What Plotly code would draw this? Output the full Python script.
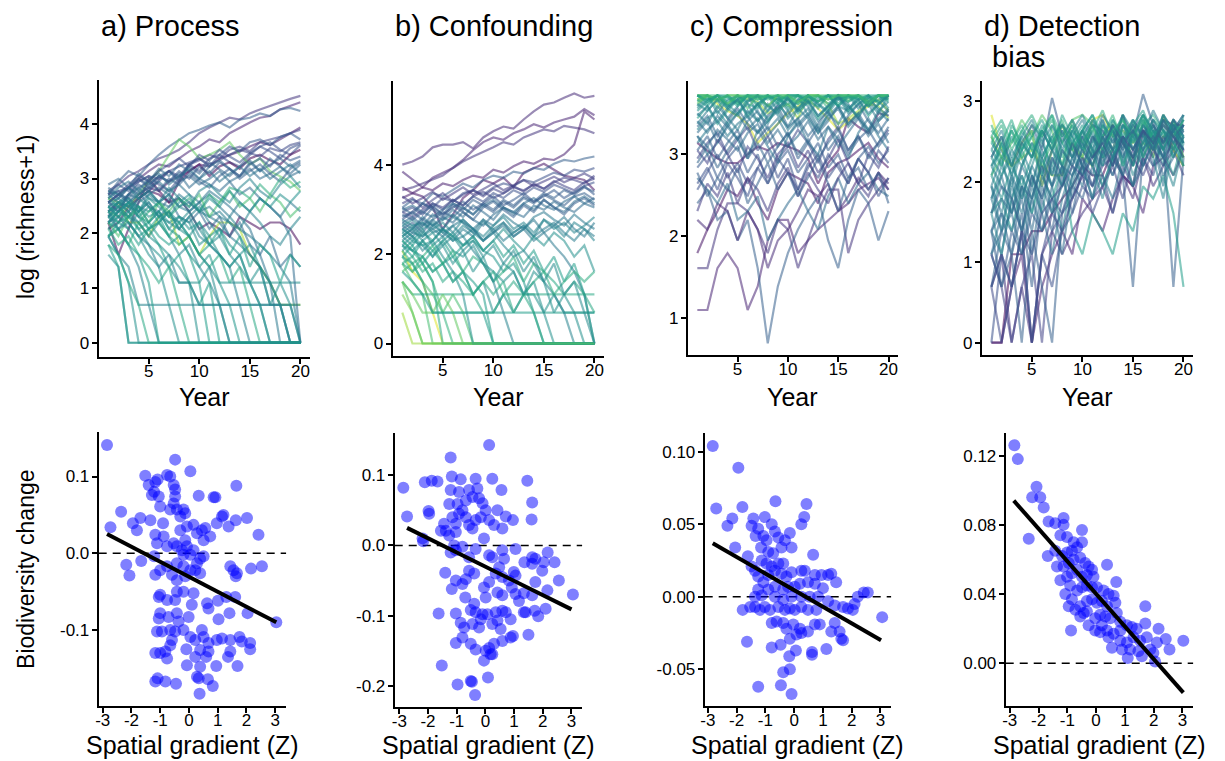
import numpy as np
import plotly.graph_objects as go
from plotly.colors import sample_colorscale

W, H = 1225, 761
years = list(range(1, 21))

# ---------------- Top row: richness counts per site (log(richness+1) is plotted) -------------
a_counts = [
    [15,17,20,22,25,28,30,33,38,45,50,55,60,58,65,70,75,80,85,90],
    [12,14,16,19,22,25,24,28,32,35,40,38,45,50,55,60,62,70,75,80],
    [14,18,22,20,25,30,35,40,45,48,52,55,50,58,60,65,62,70,72,68],
    [10,12,11,14,16,15,18,20,22,25,24,28,30,32,35,38,36,40,45,50],
    [9,12,10,13,15,18,22,20,25,27,30,28,33,35,32,38,40,42,45,48],
    [8,10,14,18,20,17,15,19,25,22,28,30,26,24,30,35,38,33,30,36],
    [8,4,7,12,19,15,12,13,10,7,8,7,6,9,8,7,8,8,7,5],
    [7,8,11,13,15,14,12,18,22,25,20,24,26,23,28,30,27,25,30,33],
    [13,12,8,8,6,9,10,5,6,4,6,8,8,7,4,3,2,1,1,1],
    [10,9,11,14,18,22,30,40,35,28,30,33,38,30,25,28,22,20,18,15],
    [9,7,5,3,1,0,0,0,0,0,0,0,0,0,0,0,0,0,0,0],
    [6,4,2,0,0,0,0,0,0,0,0,0,0,0,0,0,0,0,0,0],
    [5,3,0,0,0,0,0,0,0,0,0,0,0,0,0,0,0,0,0,0],
    [11,9,10,8,6,5,4,3,2,0,0,0,0,0,0,0,0,0,0,0],
    [8,10,12,9,7,8,6,4,5,3,2,1,0,0,0,0,0,0,0,0],
    [14,12,13,11,10,12,9,8,10,7,5,6,4,3,2,1,0,0,0,0],
    [10,12,14,13,15,12,11,14,12,10,9,8,6,5,4,3,2,0,0,0],
    [12,11,14,16,13,12,14,11,10,12,9,10,8,6,4,3,1,1,0,0],
    [6,4,3,1,1,1,1,1,1,1,1,1,1,1,1,1,1,1,1,1],
    [9,8,10,7,5,4,3,2,2,2,3,2,2,2,2,2,2,2,2,2],
    [13,15,12,14,16,18,15,17,14,12,15,13,11,9,7,4,2,1,0,0],
    [11,13,16,14,17,20,18,21,16,19,17,15,18,14,16,13,11,9,6,0],
    [10,11,9,12,14,16,14,18,20,17,19,22,18,20,23,19,21,24,20,22],
    [12,14,13,16,18,15,19,17,21,18,16,20,23,19,22,25,21,18,23,26],
    [15,13,16,19,17,20,22,19,24,21,26,23,20,24,27,22,25,28,24,27],
    [8,9,7,10,12,9,11,13,10,12,14,11,9,12,10,13,11,9,12,10],
    [6,7,9,8,6,8,10,7,9,11,8,6,9,7,10,8,6,5,7,9],
    [16,14,12,15,11,10,13,9,8,10,7,9,6,8,5,4,6,3,4,3],
    [11,10,12,9,11,8,10,7,6,8,5,4,3,4,2,3,1,2,1,0],
    [9,11,8,6,7,5,3,4,2,1,2,0,0,0,0,0,0,0,0,0],
    [13,11,9,10,7,8,6,5,6,4,3,4,2,3,1,0,0,0,0,0],
    [7,5,6,4,3,2,3,1,0,0,0,0,0,0,0,0,0,0,0,0],
    [10,12,11,9,8,10,7,6,4,3,4,2,1,0,0,0,0,0,0,0],
    [4,3,0,0,0,0,0,0,0,0,0,0,0,0,0,0,0,0,0,0],
    [12,10,14,17,15,19,22,18,25,28,24,30,35,32,38,40,36,42,45,40],
    [14,15,16,18,20,19,22,24,26,28,25,27,30,33,31,29,34,32,36,38],
    [6,7,5,8,10,12,9,11,13,10,14,12,16,15,13,17,14,19,16,18],
    [8,6,9,11,8,12,10,13,11,14,9,12,15,11,13,10,14,12,9,11],
    [7,9,8,6,4,3,1,0,0,0,0,0,0,0,0,0,0,0,0,0],
    [10,8,9,7,8,6,5,6,4,2,0,0,0,0,0,0,0,0,0,0],
    [12,13,11,10,12,9,8,7,9,6,5,4,3,1,0,0,0,0,0,0],
    [9,10,12,11,9,10,8,9,7,8,6,7,5,4,5,3,2,1,0,0],
    [15,14,16,13,15,12,14,11,12,10,11,9,8,7,6,5,4,3,2,0],
    [5,4,2,1,0,0,0,0,0,0,0,0,0,0,0,0,0,0,0,0],
    [8,7,5,4,2,0,0,0,0,0,0,0,0,0,0,0,0,0,0,0],
    [11,12,10,13,11,9,10,8,6,4,3,1,0,0,0,0,0,0,0,0],
    [13,16,18,15,19,21,17,20,23,19,22,18,21,24,20,23,19,22,25,21],
    [17,19,16,21,18,23,20,25,22,19,24,27,23,20,26,22,28,24,21,25],
    [9,11,13,10,14,12,16,13,11,15,17,14,12,16,19,15,13,17,20,16],
    [11,9,12,10,13,11,9,12,14,10,13,11,15,12,10,13,11,14,12,15],
    [14,17,15,19,16,20,18,22,19,24,21,26,23,20,25,28,24,30,27,29],
    [6,8,7,5,7,9,6,8,6,4,5,7,4,6,3,5,4,2,4,3],
    [12,14,17,20,18,22,25,28,24,30,27,33,29,26,31,35,32,28,34,37],
    [10,7,8,6,5,3,4,2,2,1,1,1,1,1,1,1,1,1,1,0],
    [8,10,9,11,8,10,7,9,8,5,6,4,3,4,2,1,0,0,0,0],
]
a_color = [0.15,0.10,0.30,0.08,0.20,0.25,0.02,0.00,0.88,0.75,0.45,0.50,0.55,0.50,0.45,0.48,
           0.40,0.42,0.45,0.50,0.38,0.35,0.35,0.30,0.32,0.40,0.45,0.35,0.50,0.55,0.60,0.60,
           0.52,0.50,0.28,0.22,0.62,0.70,0.50,0.55,0.45,0.50,0.42,0.60,0.55,0.48,0.38,0.33,
           0.45,0.50,0.28,0.55,0.25,0.45,0.50]

b_counts = [
    [54,58,65,80,85,85,90,78,100,115,128,122,150,180,210,220,245,270,245,255],
    [46,38,32,40,45,50,60,75,90,100,95,110,120,135,125,140,150,160,190,165],
    [30,32,35,38,42,50,58,65,72,80,90,85,100,110,120,115,130,125,120,110],
    [32,28,26,20,12,17,25,30,38,35,40,32,45,50,55,48,42,40,38,30],
    [25,28,32,30,35,33,38,42,40,48,45,52,58,55,62,60,68,85,180,150],
    [20,24,22,28,26,30,35,32,38,42,40,46,44,50,48,55,60,58,62,65],
    [15,18,22,20,25,23,28,30,27,32,35,33,38,36,40,45,42,48,46,50],
    [18,16,19,22,20,24,21,26,29,25,28,32,30,34,31,36,40,38,35,42],
    [12,14,11,15,18,16,20,17,22,19,24,21,26,23,28,25,30,27,32,29],
    [10,12,15,13,16,14,18,15,13,17,20,18,16,21,19,23,20,18,22,25],
    [8,10,7,9,12,10,13,11,9,12,14,11,13,10,15,12,14,11,13,16],
    [9,7,6,4,5,3,4,2,3,1,2,1,2,2,1,2,1,1,1,1],
    [5,3,2,0,0,0,0,0,0,0,0,0,0,0,0,0,0,0,0,0],
    [6,4,5,3,1,0,0,0,0,0,0,0,0,0,0,0,0,0,0,0],
    [7,4,3,1,0,0,0,0,0,0,0,0,0,0,0,0,0,0,0,0],
    [2,1,0,0,0,0,0,0,0,0,0,0,0,0,0,0,0,0,0,0],
    [1,0,0,0,0,0,0,0,0,0,0,0,0,0,0,0,0,0,0,0],
    [3,2,2,2,2,2,2,2,1,1,2,2,2,2,2,2,2,2,2,1],
    [4,3,2,1,1,1,1,1,1,1,1,1,1,1,1,1,1,1,1,1],
    [11,9,12,8,10,7,6,8,5,4,3,4,2,3,1,0,0,0,0,0],
    [13,15,12,14,11,13,10,12,9,11,8,6,7,5,3,2,1,0,0,0],
    [8,6,9,7,5,6,4,3,2,0,0,0,0,0,0,0,0,0,0,0],
    [10,8,11,9,12,10,8,9,7,6,4,5,3,1,0,0,0,0,0,0],
    [14,12,16,13,15,17,14,12,15,11,13,10,12,9,11,8,6,4,2,0],
    [6,8,5,7,9,6,8,10,7,9,6,8,5,7,4,6,3,5,2,0],
    [12,10,13,15,12,16,14,11,15,13,17,14,12,16,18,15,13,17,14,12],
    [16,18,15,20,17,22,19,24,21,18,23,20,25,22,27,24,21,26,28,24],
    [22,25,20,24,28,23,27,30,26,31,28,33,29,35,31,37,33,30,36,39],
    [5,6,4,5,3,4,3,2,3,4,2,3,2,3,4,3,2,3,2,2],
    [7,5,6,8,5,7,4,6,5,3,4,6,3,5,4,2,3,4,3,4],
    [9,11,10,13,11,9,12,10,14,12,9,11,13,10,12,14,11,9,12,10],
    [4,5,3,2,1,2,1,0,0,0,0,0,0,0,0,0,0,0,0,0],
    [3,2,1,1,2,1,0,0,0,0,0,0,0,0,0,0,0,0,0,0],
    [19,21,18,16,19,22,20,17,21,24,20,18,22,25,21,19,23,26,22,20],
    [7,9,8,6,9,11,8,10,7,9,12,9,7,10,8,11,9,6,8,4],
    [9,7,5,3,0,0,0,0,0,0,0,0,0,0,0,0,0,0,0,0],
    [12,10,8,9,6,4,2,0,0,0,0,0,0,0,0,0,0,0,0,0],
    [15,13,14,11,12,9,10,7,5,3,1,0,0,0,0,0,0,0,0,0],
    [6,5,3,1,1,1,1,1,1,0,0,0,0,0,0,0,0,0,0,0],
    [18,20,17,22,19,24,21,26,23,28,25,30,27,32,29,34,31,28,33,36],
    [14,16,13,17,15,19,16,21,18,15,20,17,22,19,24,20,18,23,26,22],
    [11,13,10,12,14,11,15,12,10,13,16,12,14,11,15,13,10,14,12,9],
    [8,7,9,6,8,5,7,4,6,3,5,4,2,4,3,1,2,1,0,0],
    [20,17,22,19,16,21,18,15,20,23,19,16,21,18,24,20,17,22,25,21],
    [26,22,25,29,24,28,32,27,31,35,30,34,38,33,37,41,36,40,44,39],
    [5,4,6,4,5,3,4,2,3,2,3,1,2,1,0,0,0,0,0,0],
    [10,12,9,11,8,10,7,9,6,8,5,7,4,6,3,5,2,3,1,0],
    [3,1,0,0,0,0,0,0,0,0,0,0,0,0,0,0,0,0,0,0],
    [13,11,14,12,10,13,15,12,9,11,14,10,12,15,11,13,16,12,10,14],
    [17,15,18,21,17,20,23,19,22,26,21,24,28,23,26,30,25,29,33,27],
]
b_color = [0.12,0.10,0.15,0.05,0.08,0.30,0.25,0.20,0.30,0.35,0.45,0.50,0.70,0.65,0.95,0.80,
           0.85,0.60,0.55,0.50,0.45,0.55,0.52,0.40,0.55,0.40,0.30,0.20,0.60,0.62,0.42,0.70,
           0.75,0.35,0.50,0.60,0.50,0.45,0.55,0.25,0.35,0.45,0.50,0.30,0.18,0.60,0.48,0.75,
           0.40,0.28]

c_counts = [
    [2,2,4,5,4,2,3,6,8,8,5,6,7,8,9,10,12,13,14,12],
    [4,4,7,10,10,9,7,5,8,7,4,6,9,12,12,5,8,10,12,14],
    [5,7,9,12,11,14,10,8,12,15,14,13,10,15,17,18,20,22,18,16],
    [10,12,8,9,6,8,4,1,3,5,7,9,11,6,4,8,12,10,6,9],
    [8,7,10,9,6,9,7,4,6,7,9,12,11,13,9,11,14,12,15,13],
    [14,12,10,13,8,9,11,6,8,10,12,9,7,11,14,10,13,15,12,11],
    [22,20,18,17,17,19,21,20,22,21,20,18,13,17,20,30,27,25,32,31],
    [40,40,38,36,40,38,37,32,34,36,30,40,40,36,28,30,33,36,35,30],
    [38,40,36,33,31,28,22,25,28,32,35,38,34,30,26,29,32,35,38,33],
    [40,38,40,35,40,37,40,33,40,38,36,40,34,40,39,37,40,35,40,38],
    [35,40,32,38,40,30,36,40,33,39,40,31,38,40,35,33,40,37,32,40],
    [28,33,38,30,35,40,32,28,36,31,38,35,29,33,40,36,30,38,34,31],
    [25,29,22,27,32,26,30,24,28,33,27,31,25,29,35,28,32,26,30,34],
    [20,24,18,22,26,19,23,27,21,25,18,22,27,20,24,19,23,26,21,25],
    [16,19,14,18,21,15,19,13,17,20,15,18,22,16,19,14,18,21,17,20],
    [30,35,28,33,38,31,36,29,34,39,32,37,30,35,40,33,38,31,36,40],
    [40,36,40,34,39,40,35,40,38,40,33,40,37,40,36,40,39,35,40,40],
    [37,40,34,40,36,40,40,38,40,35,40,38,40,34,40,37,40,40,36,40],
    [32,28,35,30,26,33,29,36,31,27,34,30,25,32,28,35,30,26,33,29],
    [18,22,25,19,23,27,20,24,18,21,26,22,17,23,27,20,24,19,22,26],
    [12,15,19,14,17,13,16,20,14,18,12,16,19,14,17,13,18,15,11,14],
    [24,19,22,28,23,18,26,21,17,24,29,22,19,27,23,18,25,30,24,20],
    [40,40,37,40,40,34,40,40,38,40,40,36,40,40,40,38,40,35,40,40],
    [34,38,40,36,32,38,40,35,39,33,37,40,36,32,38,40,34,39,37,33],
    [27,31,24,29,34,28,25,31,35,27,30,24,28,33,26,31,36,29,25,30],
    [20,17,23,19,15,21,18,14,19,22,16,20,15,18,23,17,13,19,16,21],
    [40,38,40,40,36,40,39,40,37,40,40,39,40,36,40,40,38,40,40,37],
    [9,13,11,15,10,14,12,9,13,16,11,15,12,10,14,17,13,11,15,12],
    [15,11,14,12,16,10,13,17,12,15,11,14,18,13,9,14,16,12,15,10],
    [38,35,40,37,40,36,34,40,38,36,40,37,35,40,38,40,36,39,40,38],
    [36,40,38,40,40,39,40,35,40,40,37,40,40,38,40,40,40,37,40,39],
    [33,37,40,35,38,40,36,39,40,34,38,40,37,40,35,39,40,36,38,40],
    [26,30,33,28,32,36,29,33,37,30,34,38,31,35,39,32,36,40,33,37],
    [22,26,29,24,28,31,25,29,33,26,30,34,27,31,35,28,32,36,29,33],
    [40,37,40,39,35,40,38,40,36,40,40,37,39,40,35,40,38,40,37,40],
    [29,25,31,27,23,29,33,26,30,24,28,32,26,30,34,27,31,25,29,33],
    [17,21,16,20,24,18,22,17,21,25,19,23,18,22,26,20,24,18,22,27],
    [36,33,38,34,31,37,40,35,32,38,34,40,36,33,39,35,31,37,40,34],
    [40,40,38,40,37,40,40,39,40,38,40,40,37,40,40,39,40,38,40,40],
    [31,35,29,34,38,32,36,30,34,39,33,37,31,35,40,34,38,32,36,40],
    [24,21,26,23,20,25,28,22,26,21,24,29,23,27,21,25,30,24,28,22],
    [13,16,12,17,14,11,16,13,18,15,12,17,14,19,16,13,18,15,20,17],
    [38,40,40,36,40,40,38,40,40,40,36,40,40,38,40,40,40,36,40,40],
]
c_color = [0.10,0.15,0.05,0.30,0.12,0.35,0.03,0.85,0.95,0.50,0.45,0.40,0.35,0.30,0.28,0.55,
           0.60,0.65,0.42,0.22,0.25,0.38,0.70,0.48,0.33,0.20,0.58,0.18,0.30,0.52,0.75,0.50,
           0.45,0.40,0.55,0.38,0.32,0.48,0.62,0.42,0.35,0.25,0.68]

d_counts = [
    [0,0,2,2,3,3,4,5,6,8,7,7,10,7,6,13,11,15,14,14],
    [0,0,1,2,0,1,2,3,2,5,4,3,5,7,6,4,8,9,7,10],
    [1,2,0,1,0,2,3,2,3,4,5,6,4,7,5,9,6,8,10,7],
    [0,2,1,3,0,2,1,3,4,6,5,7,4,8,6,9,7,12,10,8],
    [2,1,0,1,2,0,3,4,5,7,6,8,9,7,10,8,12,9,11,13],
    [3,1,2,0,3,1,0,4,6,5,8,6,9,7,1,10,8,11,1,9],
    [4,5,3,6,4,7,5,8,3,2,4,3,2,4,3,6,5,7,4,1],
    [12,9,8,9,10,8,7,7,11,9,8,12,14,11,9,11,10,12,13,9],
    [16,10,8,11,13,6,10,14,10,9,15,16,12,13,11,13,9,16,10,8],
    [7,9,11,15,12,16,13,8,15,16,14,9,10,16,8,15,12,11,15,9],
    [5,3,6,4,7,5,8,6,9,7,10,8,12,9,13,10,14,11,15,12],
    [8,6,4,7,5,9,6,10,8,12,9,14,11,16,10,13,9,15,12,10],
    [2,4,3,5,2,6,4,8,5,9,7,12,8,14,10,13,11,16,12,14],
    [10,8,12,9,6,11,8,13,10,7,12,9,14,11,8,15,10,13,9,16],
    [6,9,5,8,11,7,10,13,9,12,15,10,14,8,13,16,11,14,10,13],
    [13,11,15,10,14,12,16,9,13,11,8,14,10,12,15,9,13,11,14,8],
    [1,3,2,4,1,5,3,7,4,8,6,10,7,11,9,13,8,12,10,14],
    [4,7,9,5,8,12,7,11,14,10,13,8,15,12,9,14,11,16,13,10],
    [9,12,8,13,10,7,14,11,9,13,16,11,8,14,12,10,15,13,9,12],
    [3,2,5,3,6,4,2,5,8,6,10,7,5,9,12,8,11,6,14,11],
    [7,5,8,6,9,13,10,7,12,8,11,15,9,13,10,14,12,8,13,16],
    [11,14,10,13,16,12,15,11,14,10,13,17,12,15,11,14,16,13,10,15],
    [5,8,6,10,7,4,9,6,11,8,5,10,13,9,6,12,9,5,11,8],
    [2,1,3,2,4,3,5,4,7,9,6,10,8,12,9,11,14,10,13,15],
    [14,10,13,9,12,8,11,15,10,13,9,12,16,11,14,9,13,10,15,11],
    [6,4,7,3,5,8,4,6,9,11,8,12,10,7,13,9,12,15,11,14],
    [8,11,7,10,13,9,12,8,11,14,10,6,9,12,8,11,14,10,7,12],
    [3,5,4,6,3,7,5,2,6,8,5,9,7,10,6,8,11,7,9,12],
    [12,8,14,11,9,13,10,16,12,9,14,11,13,8,12,15,10,13,11,9],
    [4,2,5,7,4,9,6,3,7,10,8,5,9,12,7,10,13,9,6,11],
    [1,0,1,3,0,2,4,3,5,7,4,6,8,5,9,7,10,8,12,9],
    [9,12,8,11,14,10,20,12,15,11,14,13,10,16,12,21,14,11,15,13],
    [8,10,7,11,9,13,10,14,12,15,11,16,13,10,15,12,17,13,11,14],
    [5,7,4,8,6,10,7,12,9,13,10,15,11,14,12,16,13,10,15,12],
    [11,9,13,10,12,15,11,14,10,13,16,12,15,11,14,17,12,15,13,11],
    [3,4,2,6,5,8,6,10,8,12,9,11,13,10,14,12,15,11,13,16],
    [7,11,8,12,9,14,11,8,13,10,15,12,9,14,11,16,13,10,14,12],
    [10,13,9,12,15,11,14,10,13,16,12,9,14,11,15,12,10,16,13,11],
    [4,6,5,3,7,5,9,7,11,8,12,10,14,11,9,13,10,15,12,14],
    [6,3,7,5,8,6,10,8,6,11,9,13,10,12,8,14,11,9,13,10],
    [9,7,10,8,11,9,12,14,11,13,10,14,12,16,13,11,15,12,14,13],
    [12,15,11,14,10,13,16,12,15,11,14,10,13,15,12,16,11,14,12,15],
    [1,2,1,3,2,4,5,6,8,7,9,11,8,12,10,13,11,14,12,10],
    [2,3,4,2,5,3,6,8,7,10,8,12,9,11,13,10,12,9,14,11],
]
d_color = [0.02,0.10,0.15,0.25,0.20,0.30,0.55,0.85,0.95,0.72,0.40,0.45,0.35,0.50,0.42,0.60,
           0.30,0.48,0.55,0.38,0.50,0.62,0.45,0.28,0.65,0.40,0.52,0.35,0.58,0.45,0.22,0.30,
           0.42,0.38,0.55,0.33,0.50,0.45,0.30,0.40,0.48,0.60,0.25,0.35]

# ---------------- Bottom row: (spatial gradient Z, biodiversity change) -------------
a_points = [
    (-2.85,0.141),(-2.73,0.034),(-2.36,0.054),(-2.18,-0.015),(-2.07,-0.029),(-1.81,0.030),
    (-1.95,0.039),(-1.69,0.046),(-1.52,0.101),(-1.66,-0.010),(-1.40,0.089),(-1.34,0.043),
    (-1.29,0.076),(-1.17,0.093),(-1.09,0.096),(-1.21,0.080),(-1.05,0.074),(-1.00,0.061),
    (-0.90,0.039),(-1.17,0.024),(-1.11,0.013),(-1.21,-0.004),(-1.17,-0.028),(-1.00,-0.022),
    (-0.76,0.102),(-0.65,0.100),(-0.53,0.089),(-0.48,0.083),(-0.48,0.074),(-0.53,0.065),
    (-0.65,0.057),(-0.42,0.057),(-0.19,0.057),(-0.13,0.052),(-0.30,0.048),(-0.48,0.122),
    (0.05,0.107),(-0.88,0.022),(-0.76,0.009),(-0.53,0.013),(-0.42,0.009),(-0.24,0.004),
    (-0.07,0.009),(-0.13,0.017),(-0.30,0.030),(-0.07,0.035),(0.16,0.037),(0.28,0.026),
    (0.45,0.030),(0.57,0.033),(0.51,0.017),(0.74,0.022),(0.34,0.075),(0.86,0.073),
    (0.92,0.073),(0.97,0.039),(1.15,0.048),(1.20,0.050),(1.38,0.035),(1.63,0.043),
    (2.02,0.046),(1.65,0.088),(2.42,0.024),(2.54,-0.017),(2.16,-0.020),(1.44,-0.017),
    (1.55,-0.022),(1.67,-0.026),(1.63,-0.030),(0.51,-0.004),(0.28,-0.013),(0.22,-0.022),
    (0.39,-0.026),(0.05,-0.022),(-0.13,-0.030),(-0.42,-0.035),(-0.59,-0.028),(-0.76,-0.017),
    (-0.42,-0.013),(-0.19,-0.017),(-1.00,-0.054),(-0.76,-0.061),(-0.48,-0.061),(-0.42,-0.050),
    (-0.19,-0.050),(0.16,-0.052),(0.10,-0.067),(0.63,-0.065),(0.68,-0.072),(1.01,-0.062),
    (1.30,-0.057),(1.61,-0.057),(1.03,-0.086),(1.41,-0.078),(2.04,-0.078),(3.04,-0.090),
    (-1.00,-0.078),(-1.05,-0.085),(-0.71,-0.083),(-0.42,-0.078),(-0.36,-0.089),(-0.01,-0.083),
    (-0.94,-0.102),(-0.65,-0.100),(-0.48,-0.102),(-0.19,-0.100),(-1.11,-0.102),(0.05,-0.109),
    (0.22,-0.113),(0.45,-0.100),(0.51,-0.109),(0.68,-0.117),(0.97,-0.113),(1.15,-0.111),
    (1.44,-0.113),(1.76,-0.109),(1.84,-0.115),(2.13,-0.117),(2.13,-0.125),(1.44,-0.128),
    (1.36,-0.135),(1.69,-0.147),(0.95,-0.147),(0.60,-0.135),(0.68,-0.128),(0.39,-0.126),
    (0.22,-0.135),(-0.09,-0.125),(-0.07,-0.146),(0.39,-0.148),(0.28,-0.161),(0.34,-0.163),
    (0.66,-0.164),(0.83,-0.173),(0.37,-0.183),(-1.17,-0.130),(-1.00,-0.130),(-0.82,-0.128),
    (-0.76,-0.137),(-0.65,-0.120),(-0.59,-0.113),(-1.17,-0.167),(-1.09,-0.163),(-0.82,-0.167),
    (-0.45,-0.170),(-1.05,-0.057),(-0.19,-0.002),(0.05,-0.002),(0.16,0.004),(0.39,-0.007),
]
b_points = [
    (-2.86,0.082),(-2.73,0.041),(-2.17,0.006),(-2.11,0.090),(-1.98,0.049),(-1.87,0.092),
    (-1.67,0.091),(-1.96,0.045),(-2.19,0.010),(-1.21,0.125),(-1.17,0.098),(-0.86,0.094),
    (-1.21,0.079),(-0.92,0.076),(-1.26,0.059),(-0.97,0.059),(-0.68,0.064),(-0.57,0.079),
    (-0.34,0.095),(-0.28,0.081),(-0.45,0.069),(-0.22,0.067),(-0.10,0.060),(0.01,0.050),
    (0.13,0.143),(0.24,0.095),(0.56,0.079),(0.42,0.050),(0.71,0.041),(0.96,0.036),
    (1.46,0.092),(1.63,0.061),(1.61,0.037),(-1.44,0.031),(-1.38,0.021),(-1.15,0.040),
    (-1.03,0.031),(-0.92,0.045),(-0.80,0.050),(-0.68,0.040),(-0.57,0.029),(-0.45,0.024),
    (-0.34,0.036),(-0.16,0.040),(-0.05,0.010),(-1.03,0.019),(-1.26,0.014),(-1.55,0.021),
    (0.30,0.029),(0.59,0.024),(0.13,0.036),(-1.09,0.000),(-1.03,-0.007),(-1.21,-0.010),
    (-0.80,-0.002),(-0.57,-0.017),(-0.34,-0.005),(0.13,-0.014),(0.24,-0.017),(0.59,-0.007),
    (1.05,-0.005),(0.65,-0.019),(1.36,-0.024),(1.63,-0.017),(1.74,-0.019),(1.63,-0.026),
    (2.03,-0.024),(2.17,-0.010),(2.41,-0.024),(1.98,-0.036),(2.56,-0.050),(3.05,-0.070),
    (2.16,-0.064),(2.10,-0.090),(1.74,-0.052),(1.63,-0.071),(1.34,-0.068),(1.17,-0.079),
    (0.99,-0.038),(1.05,-0.043),(0.82,-0.050),(0.59,-0.045),(0.48,-0.031),(0.36,-0.040),
    (0.13,-0.052),(-0.05,-0.060),(0.01,-0.074),(0.42,-0.067),(0.59,-0.071),(0.92,-0.060),
    (1.05,-0.069),(-0.57,-0.036),(-0.39,-0.040),(-0.68,-0.048),(-0.80,-0.055),(-1.03,-0.050),
    (-1.17,-0.062),(-1.40,-0.039),(-0.70,-0.074),(-0.39,-0.083),(-0.51,-0.092),(-0.34,-0.095),
    (-0.10,-0.098),(0.07,-0.098),(0.36,-0.095),(0.59,-0.093),(0.71,-0.095),(0.88,-0.105),
    (1.34,-0.095),(1.40,-0.095),(1.72,-0.093),(1.84,-0.101),(-1.63,-0.097),(-1.03,-0.097),
    (-0.86,-0.110),(-0.74,-0.117),(-0.45,-0.112),(-0.16,-0.105),(-0.22,-0.117),(0.24,-0.112),
    (0.42,-0.107),(0.53,-0.119),(0.88,-0.131),(0.96,-0.129),(0.59,-0.136),(0.30,-0.140),
    (0.18,-0.155),(-0.05,-0.164),(0.13,-0.146),(0.01,-0.150),(-0.34,-0.148),(-0.51,-0.140),
    (-0.80,-0.131),(-1.03,-0.139),(1.50,-0.127),(0.24,-0.155),(-1.52,-0.171),(-0.97,-0.198),
    (-0.51,-0.193),(-0.47,-0.194),(-0.36,-0.213),(0.09,-0.188),
]
c_points = [
    (-2.83,0.104),(-1.94,0.089),(-2.71,0.061),(-1.80,0.062),(-0.65,0.066),(0.43,0.064),
    (-2.15,0.054),(-2.32,0.049),(-2.05,0.034),(-1.61,0.028),(-1.42,0.054),(-1.48,0.049),
    (-1.25,0.047),(-1.02,0.055),(-0.78,0.050),(-1.34,0.042),(-1.07,0.042),(-0.96,0.039),
    (-1.15,0.034),(-0.67,0.045),(-0.55,0.041),(-0.32,0.039),(-0.15,0.044),(-0.44,0.034),
    (-0.09,0.034),(0.25,0.050),(0.35,0.055),(0.66,0.029),(-0.90,0.031),(-0.73,0.030),
    (-1.13,0.025),(-0.96,0.023),(-0.78,0.021),(-0.55,0.023),(-0.38,0.023),(-0.67,0.018),
    (-1.25,0.014),(-1.07,0.010),(-0.90,0.015),(-0.44,0.016),(-0.27,0.014),(-0.09,0.017),
    (0.25,0.018),(0.37,0.018),(0.72,0.015),(0.95,0.015),(1.18,0.015),(1.29,0.016),
    (1.46,0.010),(1.00,0.006),(0.72,0.009),(0.48,0.010),(0.20,0.009),(0.02,0.007),
    (-0.21,0.007),(-0.38,0.005),(-0.67,0.007),(-0.90,0.005),(-1.13,0.001),(-1.36,0.000),
    (-0.67,0.000),(-0.38,-0.002),(-0.09,0.000),(0.25,0.000),(0.54,0.000),(0.83,0.000),
    (1.18,-0.003),(1.41,-0.006),(1.70,-0.007),(1.87,-0.008),(2.04,-0.009),(2.10,-0.005),
    (2.21,0.000),(2.42,0.003),(2.56,0.003),(3.06,-0.014),(-1.79,-0.009),(-1.36,-0.007),
    (-1.19,-0.009),(-1.02,-0.007),(-0.84,-0.009),(-0.55,-0.007),(-0.32,-0.009),(-0.15,-0.008),
    (0.02,-0.009),(0.25,-0.007),(0.48,-0.009),(0.77,-0.009),(-0.78,-0.018),(-0.61,-0.017),
    (-0.38,-0.018),(-0.27,-0.022),(-0.03,-0.019),(0.20,-0.022),(0.48,-0.024),(0.72,-0.019),
    (0.89,-0.019),(1.29,-0.024),(1.41,-0.018),(1.58,-0.024),(1.64,-0.029),(1.70,-0.030),
    (-0.15,-0.029),(0.08,-0.026),(0.25,-0.025),(-1.64,-0.031),(-0.78,-0.035),(-0.47,-0.033),
    (0.06,-0.037),(0.62,-0.038),(0.62,-0.040),(1.12,-0.036),(-0.17,-0.041),(-0.15,-0.050),
    (-0.38,-0.052),(-1.25,-0.062),(-0.46,-0.061),(-0.09,-0.067),(-1.48,0.021),(-1.36,0.018),
    (-1.53,-0.007),(-1.25,0.005),
]
d_points = [
    (-2.84,0.126),(-2.72,0.118),(-2.07,0.102),(-2.22,0.096),(-1.94,0.096),(-1.82,0.090),
    (-2.34,0.072),(-1.65,0.082),(-1.42,0.081),(-1.13,0.084),(-1.13,0.080),(-0.49,0.077),
    (-1.24,0.074),(-1.01,0.073),(-0.78,0.070),(-0.49,0.070),(-1.68,0.062),(-1.42,0.065),
    (-1.36,0.056),(-1.18,0.062),(-1.01,0.064),(-0.84,0.065),(-0.66,0.067),(-1.13,0.056),
    (-0.95,0.058),(-0.78,0.060),(-0.55,0.061),(-0.38,0.058),(-0.26,0.056),(-0.14,0.054),
    (-1.24,0.048),(-1.01,0.050),(-0.84,0.052),(-0.66,0.054),(-0.49,0.050),(-0.32,0.051),
    (-0.09,0.050),(0.38,0.057),(0.70,0.047),(-0.84,0.037),(-0.66,0.042),(-0.49,0.044),
    (-0.32,0.045),(-0.14,0.044),(0.03,0.044),(0.26,0.042),(0.43,0.040),(0.61,0.039),
    (0.67,0.035),(-0.55,0.033),(-0.32,0.036),(-0.14,0.037),(0.03,0.035),(0.20,0.036),
    (0.38,0.033),(-0.55,0.027),(-0.32,0.030),(-0.03,0.026),(0.14,0.028),(0.32,0.027),
    (0.49,0.026),(0.72,0.029),(0.84,0.024),(1.71,0.033),(-0.87,0.019),(-0.03,0.019),
    (0.14,0.018),(0.38,0.019),(0.61,0.017),(0.84,0.019),(1.07,0.022),(1.24,0.021),
    (1.41,0.020),(1.71,0.023),(2.17,0.020),(2.42,0.014),(3.03,0.013),(2.55,0.008),
    (2.11,0.012),(1.76,0.015),(1.53,0.013),(1.30,0.015),(1.07,0.012),(0.84,0.013),
    (0.55,0.009),(0.90,0.008),(1.18,0.008),(1.47,0.007),(1.10,0.003),(1.59,0.004),
    (1.88,0.008),(2.05,0.001),(1.99,0.006),(0.43,0.015),(0.20,0.022),(-0.26,0.022),
    (-0.43,0.029),(-0.72,0.031),(-0.95,0.033),(-1.07,0.040),(-0.90,0.045),
]

# fitted regression lines: endpoints (Z, change)
a_fit_x, a_fit_y = [-2.85, 3.04], [0.025, -0.090]
b_fit_x, b_fit_y = [-2.73, 3.00], [0.025, -0.091]
c_fit_x, c_fit_y = [-2.83, 3.02], [0.037, -0.030]
d_fit_x, d_fit_y = [-2.86, 3.03], [0.094, -0.017]

# panel titles; the last one wraps onto a second, slightly indented line
panel_titles = [["a) Process"], ["b) Confounding"], ["c) Compression"], ["d) Detection", "\u00a0bias"]]

# ---------------- layout geometry (pixels) ----------------
top_boxes = [(95, 307, 80, 357), (390, 602, 81, 356), (686, 897, 81, 355), (981, 1193, 81, 355)]
bot_boxes = [(95, 283, 432, 706), (392, 580, 433, 707), (703, 890, 433, 706), (1005, 1193, 433, 706)]
top_yranges = [(-0.26, 4.80), (-0.28, 5.88), (0.55, 3.89), (-0.155, 3.255)]
top_yticks = [[0, 1, 2, 3, 4], [0, 2, 4], [1, 2, 3], [0, 1, 2, 3]]
bot_yranges = [(-0.199, 0.158), (-0.230, 0.160), (-0.0753, 0.113), (-0.0247, 0.1331)]
bot_xranges = [(-3.14, 3.38), (-3.16, 3.37), (-3.11, 3.37), (-3.14, 3.37)]
bot_yticks = [([-0.1, 0.0, 0.1], ["-0.1", "0.0", "0.1"]),
              ([-0.2, -0.1, 0.0, 0.1], ["-0.2", "-0.1", "0.0", "0.1"]),
              ([-0.05, 0.0, 0.05, 0.10], ["-0.05", "0.00", "0.05", "0.10"]),
              ([0.0, 0.04, 0.08, 0.12], ["0.00", "0.04", "0.08", "0.12"])]
z_ticks = [-3, -2, -1, 0, 1, 2, 3]
z_ticktext = ["-3", "-2", "-1", "0", "1", "2", "3"]

FONT = "Liberation Sans, Arial, Helvetica, sans-serif"

def xdom(l, r):
    return [l / W, r / W]

def ydom(t, b):
    return [1 - b / H, 1 - t / H]

def viridis_rgba(v, alpha):
    s = sample_colorscale("Viridis", [v])[0]
    nums = s[s.index("(") + 1:s.index(")")].split(",")
    r, g, b = [int(float(n)) for n in nums[:3]]
    return f"rgba({r},{g},{b},{alpha})"

fig = go.Figure()

axis_common = dict(showline=True, linecolor="black", linewidth=2, ticks="outside", ticklen=5,
                   tickwidth=1.5, tickcolor="black", showgrid=False, zeroline=False,
                   tickfont=dict(family=FONT, size=17, color="black"))

all_counts = [a_counts, b_counts, c_counts, d_counts]
all_colors = [a_color, b_color, c_color, d_color]
for i in range(4):
    ax = i + 1
    for counts, cv in zip(all_counts[i], all_colors[i]):
        fig.add_trace(go.Scatter(x=years, y=np.log1p(np.array(counts, dtype=float)), mode="lines",
                                 line=dict(color=viridis_rgba(cv, 0.55), width=2.2),
                                 xaxis=f"x{ax}", yaxis=f"y{ax}", showlegend=False, hoverinfo="skip"))
    l, r, t, b = top_boxes[i]
    fig.layout[f"xaxis{ax}"] = dict(axis_common, domain=xdom(l, r), anchor=f"y{ax}",
                                    range=[0.05, 20.95], tickvals=[5, 10, 15, 20],
                                    ticklabelstandoff=-7)
    fig.layout[f"yaxis{ax}"] = dict(axis_common, domain=ydom(t, b), anchor=f"x{ax}",
                                    range=list(top_yranges[i]), tickvals=top_yticks[i],
                                    ticklabelstandoff=-1)

all_points = [a_points, b_points, c_points, d_points]
all_fits = [(a_fit_x, a_fit_y), (b_fit_x, b_fit_y), (c_fit_x, c_fit_y), (d_fit_x, d_fit_y)]
shapes = []
for i in range(4):
    ax = i + 5
    zx = [p[0] for p in all_points[i]]
    zy = [p[1] for p in all_points[i]]
    fig.add_trace(go.Scatter(x=zx, y=zy, mode="markers",
                             marker=dict(size=12, color="rgba(0,0,255,0.5)", line=dict(width=0)),
                             xaxis=f"x{ax}", yaxis=f"y{ax}", showlegend=False, hoverinfo="skip"))
    fx, fy = all_fits[i]
    fig.add_trace(go.Scatter(x=fx, y=fy, mode="lines", line=dict(color="black", width=4),
                             xaxis=f"x{ax}", yaxis=f"y{ax}", showlegend=False, hoverinfo="skip"))
    l, r, t, b = bot_boxes[i]
    fig.layout[f"xaxis{ax}"] = dict(axis_common, domain=xdom(l, r), anchor=f"y{ax}",
                                    range=list(bot_xranges[i]), tickvals=z_ticks, ticktext=z_ticktext,
                                    ticklabelstandoff=-7)
    yv, yt = bot_yticks[i]
    fig.layout[f"yaxis{ax}"] = dict(axis_common, domain=ydom(t, b), anchor=f"x{ax}",
                                    range=list(bot_yranges[i]), tickvals=yv, ticktext=yt,
                                    ticklabelstandoff=-1)
    shapes.append(dict(type="line", xref=f"x{ax} domain", x0=0, x1=1, yref=f"y{ax}", y0=0, y1=0,
                       line=dict(color="black", width=1.5, dash="8px,6px"), layer="below"))

annotations = []
for i in range(4):
    l, r, t, b = top_boxes[i]
    for k, line_text in enumerate(panel_titles[i]):
        annotations.append(dict(text=line_text, x=l / W, y=1 - (8 + 31 * k) / H, xref="paper",
                                yref="paper", xanchor="left", yanchor="top", showarrow=False,
                                font=dict(family=FONT, size=29, color="black")))
    annotations.append(dict(text="Year", x=(l + r) / 2 / W, y=1 - 397 / H, xref="paper", yref="paper",
                            xanchor="center", yanchor="middle", showarrow=False,
                            font=dict(family=FONT, size=25, color="black")))
    l2, r2, t2, b2 = bot_boxes[i]
    annotations.append(dict(text="Spatial gradient (Z)", x=(l2 + r2) / 2 / W, y=1 - 745 / H,
                            xref="paper", yref="paper", xanchor="center", yanchor="middle",
                            showarrow=False, font=dict(family=FONT, size=25, color="black")))
annotations.append(dict(text="log (richness+1)", x=22 / W, y=1 - 217 / H, xref="paper", yref="paper",
                        xanchor="center", yanchor="middle", textangle=-90, showarrow=False,
                        font=dict(family=FONT, size=23, color="black")))
annotations.append(dict(text="Biodiversity change", x=22 / W, y=1 - 569 / H, xref="paper", yref="paper",
                        xanchor="center", yanchor="middle", textangle=-90, showarrow=False,
                        font=dict(family=FONT, size=23, color="black")))

fig.update_layout(width=W, height=H, margin=dict(l=0, r=0, t=0, b=0),
                  plot_bgcolor="white", paper_bgcolor="white",
                  shapes=shapes, annotations=annotations, showlegend=False)

fig.write_html("out.html", config={"displayModeBar": False},
               post_script="document.body.style.margin='0px';document.body.style.padding='0px';"
                           "document.body.style.overflow='hidden';")
